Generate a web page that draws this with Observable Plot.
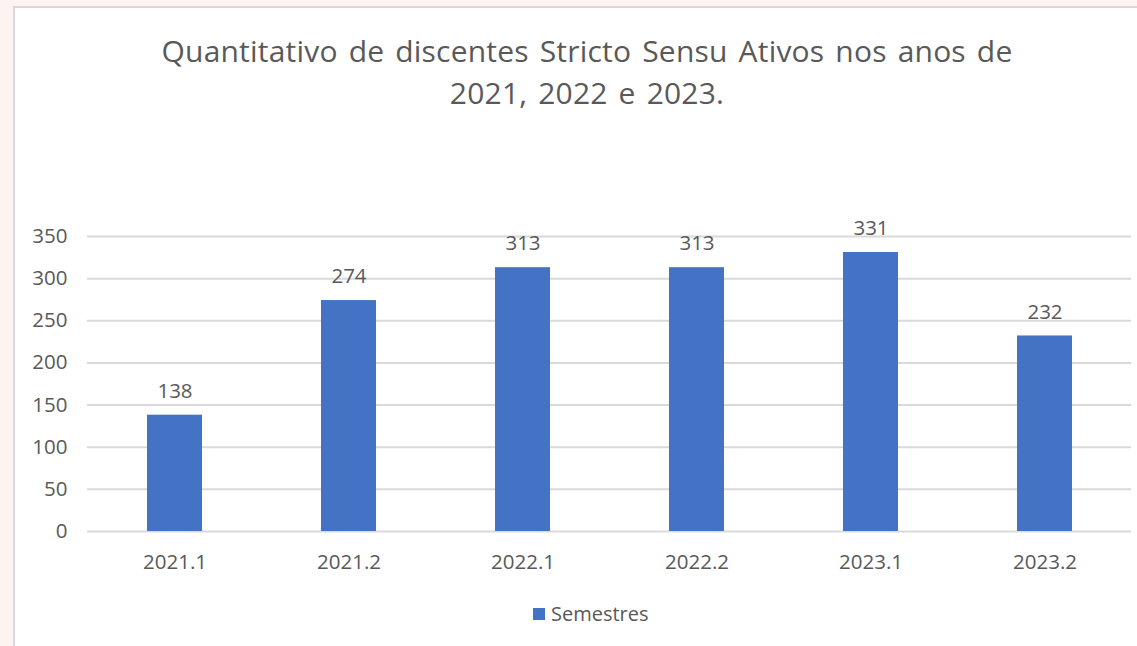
<!DOCTYPE html>
<html>
<head>
<meta charset="utf-8">
<script src="https://cdn.jsdelivr.net/npm/d3@7"></script>
<script src="https://cdn.jsdelivr.net/npm/@observablehq/plot@0.6"></script>
<style>
  html, body { margin: 0; padding: 0; width: 1137px; height: 646px; overflow: hidden; background: #fdf3f0; }
  #card { position: absolute; left: 13px; top: 6px; width: 1140px; height: 660px; background: #fff; border: 2px solid #d9d9d9; box-sizing: border-box; }
  #title { position: absolute; left: 0; width: 1144px; top: 22px; text-align: center; font-family: "Open Sans", sans-serif; font-size: 30px; letter-spacing: 0.2px; word-spacing: 3px; line-height: 42px; color: #595959; }
  #chart { position: absolute; left: 2px; top: 192px; }
  #legend { position: absolute; left: 518px; top: 592px; font-family: "Open Sans", sans-serif; font-size: 20px; color: #595959; display: flex; align-items: center; }
  #legend .sw { width: 12px; height: 12px; background: #4472c4; margin-right: 6px; }
</style>
</head>
<body>
<div id="card">
  <div id="title">Quantitativo de discentes Stricto Sensu Ativos nos anos de<br>2021, 2022 e 2023.</div>
  <div id="chart"></div>
  <div id="legend"><span class="sw"></span><span>Semestres</span></div>
</div>
<script>
const semesters = ["2021.1", "2021.2", "2022.1", "2022.2", "2023.1", "2023.2"];
const values = [138, 274, 313, 313, 331, 232];
const yTicks = [0, 50, 100, 150, 200, 250, 300, 350];

const data = semesters.map((s, i) => ({semester: s, value: values[i]}));

const plot = Plot.plot({
  width: 1120,
  height: 381,
  marginLeft: 70,
  marginRight: 6,
  marginTop: 36,
  marginBottom: 50,
  style: {fontFamily: "'Open Sans', sans-serif", fontSize: "20px", color: "#595959", background: "transparent"},
  x: {domain: semesters, paddingInner: 0.684, paddingOuter: 0.342, label: null},
  y: {domain: [0, 350], ticks: yTicks, label: null},
  marks: [
    Plot.gridY(yTicks, {stroke: "#d9d9d9", strokeOpacity: 1, strokeWidth: 2}),
    Plot.barY(data, {x: "semester", y: "value", fill: "#4472c4"}),
    Plot.text(data, {x: "semester", y: "value", text: d => String(d.value), dy: -24, fill: "#595959", fontSize: 20.5}),
    Plot.axisX({tickSize: 0, tickPadding: 23, fontSize: 20.5}),
    Plot.axisY(yTicks, {tickSize: 0, tickPadding: 20, fontSize: 20.5})
  ]
});
document.getElementById("chart").appendChild(plot);
</script>
</body>
</html>
